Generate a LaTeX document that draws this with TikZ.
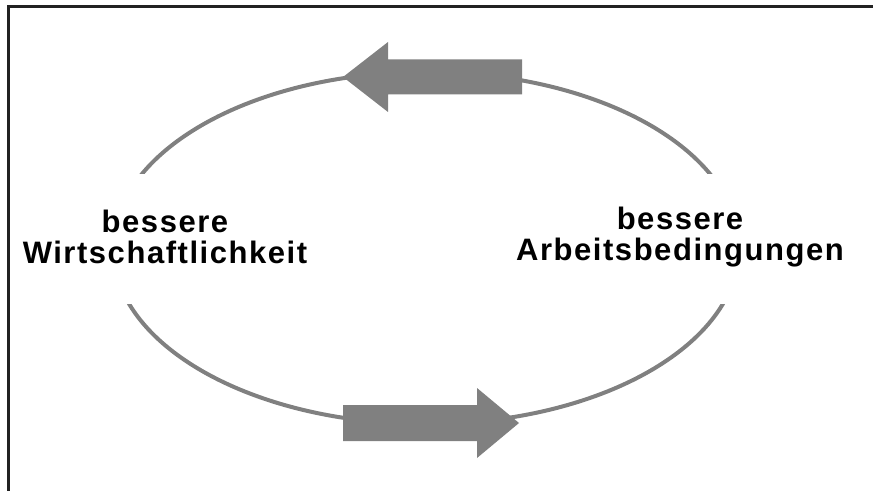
\documentclass[tikz,border=0pt]{standalone}
\usepackage{fontspec}
\setmainfont{Liberation Sans}
\newfontfamily\labelfont[LetterSpace=5]{Liberation Sans}
\definecolor{cyclegray}{HTML}{808080}
\definecolor{framegray}{HTML}{222222}

\tikzset{
  cycle line/.style={line width=4, color=cyclegray},
  cycle arrow/.style={fill=cyclegray, draw=none},
  goal/.style={align=center, font=\labelfont\bfseries\fontsize{31}{31}\selectfont}
}

\begin{document}
\begin{tikzpicture}[x=1pt, y=1pt]

\useasboundingbox (0,0) rectangle (873,491);

\draw[line width=3, color=framegray] (873,484) -- (8.8,484) -- (8.8,0);

\coordinate (c) at (426,243);

\begin{scope}
\clip (0,317) rectangle (873,491);
\draw[cycle line] (c) ellipse [x radius=313, y radius=176];
\end{scope}

\begin{scope}
\clip (0,0) rectangle (873,187);
\draw[cycle line] (c) ellipse [x radius=313, y radius=176];
\end{scope}

\node[goal] (wirt) at (165,254) {bessere\\Wirtschaftlichkeit};
\node[goal] (arb) at (680,254) {bessere\\Arbeitsbedingungen};

% arrow back to Wirtschaftlichkeit
\fill[cycle arrow] (522,431.5) -- (388,431.5) -- (388,449) -- (343,414) -- (388,379) -- (388,396.5) -- (522,396.5) -- cycle;

% arrow on to Arbeitsbedingungen
\fill[cycle arrow] (343,86) -- (477,86) -- (477,103) -- (519,68) -- (477,33) -- (477,50) -- (343,50) -- cycle;

\end{tikzpicture}
\end{document}
